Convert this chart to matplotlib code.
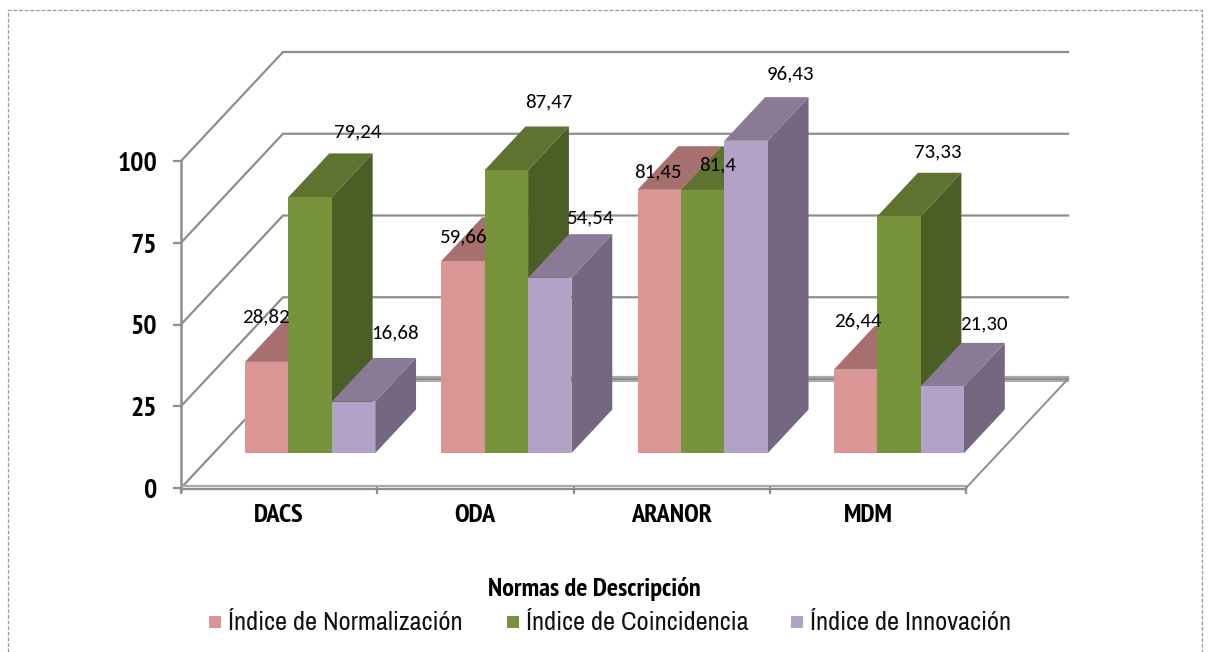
import matplotlib
matplotlib.use('Agg')
import matplotlib.pyplot as plt
from matplotlib.patches import Polygon, Rectangle
from matplotlib import font_manager

# Data
categories = ['DACS', 'ODA', 'ARANOR', 'MDM']
series_names = ['Índice de Normalización', 'Índice de Coincidencia', 'Índice de Innovación']
normalizacion = [28.82, 59.66, 81.45, 26.44]
coincidencia = [79.24, 87.47, 81.4, 73.33]
innovacion = [16.68, 54.54, 96.43, 21.30]
norm_labels = ['28,82', '59,66', '81,45', '26,44']
coin_labels = ['79,24', '87,47', '81,4', '73,33']
inno_labels = ['16,68', '54,54', '96,43', '21,30']
y_ticks = [0, 25, 50, 75, 100]
x_title = 'Normas de Descripción'

# Colours: front, top, side
pink = ('#D99694', '#A76F6E', '#8F6362')
green = ('#77933C', '#5E7330', '#4B5E26')
violet = ('#B2A2C7', '#8A7A95', '#75677F')
grid_col = '#8E8E8E'

# Oblique projection of the 3d box, in pixels of the output image
X0, Y0 = 181, 488
CAT_W = 196.25
UNIT = 3.27
DEPTH_X, DEPTH_Y = 102, 109
BAR_FRONT, BAR_BACK = 0.32, 0.72
BAR_W = 43.4
BAR_PAD = 0.16
SINK = 3  # excel draws the bar tops a little under the wall scale

# label offset from the middle of the front top edge of each bar
norm_off = [(-1, -45), (0, -24), (-1, -18), (2, -49)]
coin_off = [(48, -65), (42, -68), (15, -25), (39, -64)]
inno_off = [(41, -69), (40, -60), (44, -67), (42, -63)]


def proj(cat, val, depth):
    return (X0 + cat * CAT_W + depth * DEPTH_X,
            Y0 - val * UNIT - depth * DEPTH_Y)


def first_font(names, weight=400):
    fams = {f.name for f in font_manager.fontManager.ttflist if f.weight == weight}
    for name in names:
        if name in fams:
            return name
    return 'DejaVu Sans'


narrow = first_font(['Liberation Sans Narrow', 'Archivo Narrow', 'Roboto Condensed',
                     'PT Sans Narrow', 'Liberation Sans'])
narrow_bold = first_font(['Liberation Sans Narrow', 'PT Sans Narrow', 'Pragati Narrow',
                          'Roboto Condensed', 'Liberation Sans'], 700)
body = first_font(['Carlito', 'Noto Sans'])

fig = plt.figure(figsize=(12.1, 6.52), dpi=100, facecolor='white')
ax = fig.add_axes([0, 0, 1, 1])
ax.set_xlim(0, 1210)
ax.set_ylim(652, 0)
ax.axis('off')

# dashed outer frame
ax.plot([8, 8, 1202, 1202], [652, 10, 10, 652], color='#999999', lw=0.9,
        ls=(0, (3, 1.5)), zorder=1)

# walls
n = len(categories)
for t in y_ticks:
    x1, y1 = proj(0, t, 0)
    x2, y2 = proj(0, t, 1)
    x3, y3 = proj(n, t, 1)
    ax.plot([x1, x2, x3], [y1, y2, y3], color=grid_col, lw=1.6, zorder=2,
            solid_joinstyle='miter')
    ax.plot([x1 - 7, x1], [y1, y1], color=grid_col, lw=1.6, zorder=2)
    ax.text(x1 - 24, y1 + 3, str(t), ha='right', va='center', fontsize=20,
            fontweight='bold', family=narrow_bold, color='black', zorder=6)

# second line of the floor, makes it look doubled
x2, y2 = proj(0, 0, 1)
x3, y3 = proj(n, 0, 1)
ax.plot([x2, x3], [y2 - 2, y3 - 2], color='#A8A8A8', lw=1.6, zorder=2)
ax.plot([x2, x3], [y2 + 2, y3 + 2], color='#A8A8A8', lw=1.4, zorder=2)

# y axis and floor edges
ax.plot([X0, X0], [proj(0, 100, 0)[1], Y0 + 3], color=grid_col, lw=1.8, zorder=3)
ax.plot([X0, proj(n, 0, 0)[0]], [Y0 - 2, Y0 - 2], color='#A8A8A8', lw=1.6, zorder=3)
ax.plot([X0, proj(n, 0, 0)[0]], [Y0 + 0.5, Y0 + 0.5], color=grid_col, lw=1.6, zorder=3)
xr, yr = proj(n, 0, 0)
ax.plot([xr, proj(n, 0, 1)[0]], [yr, proj(n, 0, 1)[1]], color=grid_col, lw=1.4, zorder=3)
for c in range(n + 1):
    xc = proj(c, 0, 0)[0]
    ax.plot([xc, xc], [Y0, Y0 + 5], color=grid_col, lw=1.6, zorder=3)


def draw_bar(cat, slot, val, cols):
    left = cat + BAR_PAD + slot * BAR_W / CAT_W
    right = left + BAR_W / CAT_W
    bl = proj(left, 0, BAR_FRONT)
    br = proj(right, 0, BAR_FRONT)
    tl = proj(left, val, BAR_FRONT)
    tr = proj(right, val, BAR_FRONT)
    tbl = proj(left, val, BAR_BACK)
    tbr = proj(right, val, BAR_BACK)
    bbr = proj(right, 0, BAR_BACK)
    ytop = tl[1] + SINK
    yback = tbl[1] + SINK
    z = 4 + slot * 0.1
    # side, top, then front
    ax.add_patch(Polygon([(br[0], br[1]), (tr[0], ytop), (tbr[0], yback), (bbr[0], bbr[1])],
                         closed=True, fc=cols[2], ec='none', zorder=z))
    ax.add_patch(Polygon([(tl[0], ytop), (tr[0], ytop), (tbr[0], yback), (tbl[0], yback)],
                         closed=True, fc=cols[1], ec='none', zorder=z))
    ax.add_patch(Rectangle((bl[0], ytop), br[0] - bl[0], bl[1] - ytop, fc=cols[0],
                           ec='none', zorder=z + 0.01))
    return (bl[0] + br[0]) / 2, ytop


groups = [(normalizacion, norm_labels, norm_off, pink),
          (coincidencia, coin_labels, coin_off, green),
          (innovacion, inno_labels, inno_off, violet)]

for c in range(n):
    for s, (vals, labs, offs, cols) in enumerate(groups):
        xm, ym = draw_bar(c, s, vals[c], cols)
        ax.text(xm + offs[c][0], ym + offs[c][1], labs[c], ha='center', va='center',
                fontsize=15, family=body, color='black', zorder=8)

# category names
cat_x = [279, 475, 672, 868]
for name, xc in zip(categories, cat_x):
    ax.text(xc, 515, name, ha='center', va='center', fontsize=19, fontweight='bold',
            family=narrow_bold, color='black')

ax.text(594, 589, x_title, ha='center', va='center', fontsize=19, fontweight='bold',
        family=narrow_bold, color='black')

# legend
leg_x = [209, 507, 791]
for name, lx, cols in zip(series_names, leg_x, (pink, green, violet)):
    ax.add_patch(Rectangle((lx, 616), 12, 12, fc=cols[0], ec='none'))
    ax.text(lx + 19, 622, name, ha='left', va='center', fontsize=19, family=narrow,
            color='#111111')

fig.savefig('out.png', dpi=100)
